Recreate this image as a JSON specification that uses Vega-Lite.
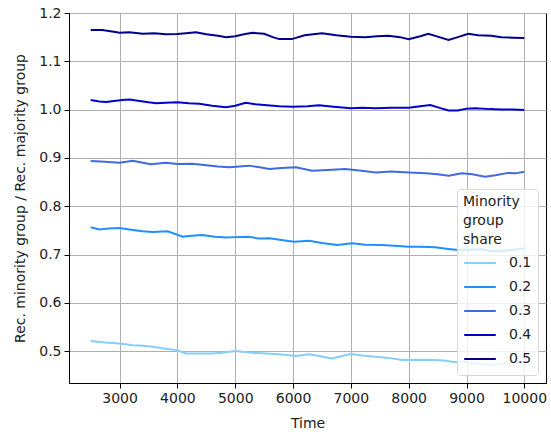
{
  "$schema": "https://vega.github.io/schema/vega-lite/v6.json",
  "width": 477,
  "height": 370,
  "autosize": {"type": "none"},
  "padding": {"left": 69, "top": 13, "right": 5, "bottom": 54},
  "background": "white",
  "config": {
    "font": "DejaVu Sans",
    "view": {"stroke": "black", "strokeWidth": 1},
    "axis": {
      "domainColor": "black",
      "tickColor": "black",
      "tickSize": 5,
      "labelPadding": 3,
      "labelFontSize": 14,
      "labelColor": "#222222",
      "titleFontSize": 14,
      "titleFontWeight": "normal",
      "titleColor": "#222222",
      "gridColor": "#b0b0b0",
      "gridWidth": 1
    }
  },
  "datasets": {
    "d": [
      {"t": 2500, "v": 0.5209, "s": "0.1"}, {"t": 2750, "v": 0.518, "s": "0.1"}, {"t": 3000, "v": 0.5159, "s": "0.1"}, {"t": 3230, "v": 0.5124, "s": "0.1"}, {"t": 3400, "v": 0.511, "s": "0.1"}, {"t": 3570, "v": 0.509, "s": "0.1"}, {"t": 3800, "v": 0.505, "s": "0.1"}, {"t": 3977, "v": 0.5023, "s": "0.1"}, {"t": 4150, "v": 0.4952, "s": "0.1"}, {"t": 4400, "v": 0.495, "s": "0.1"}, {"t": 4610, "v": 0.4952, "s": "0.1"}, {"t": 4800, "v": 0.497, "s": "0.1"}, {"t": 5000, "v": 0.5, "s": "0.1"}, {"t": 5250, "v": 0.497, "s": "0.1"}, {"t": 5530, "v": 0.4952, "s": "0.1"}, {"t": 5800, "v": 0.493, "s": "0.1"}, {"t": 6050, "v": 0.4899, "s": "0.1"}, {"t": 6280, "v": 0.4935, "s": "0.1"}, {"t": 6450, "v": 0.49, "s": "0.1"}, {"t": 6670, "v": 0.485, "s": "0.1"}, {"t": 6850, "v": 0.49, "s": "0.1"}, {"t": 7000, "v": 0.494, "s": "0.1"}, {"t": 7200, "v": 0.491, "s": "0.1"}, {"t": 7430, "v": 0.4885, "s": "0.1"}, {"t": 7650, "v": 0.486, "s": "0.1"}, {"t": 7885, "v": 0.4816, "s": "0.1"}, {"t": 8150, "v": 0.482, "s": "0.1"}, {"t": 8460, "v": 0.4816, "s": "0.1"}, {"t": 8650, "v": 0.48, "s": "0.1"}, {"t": 8805, "v": 0.4768, "s": "0.1"}, {"t": 9000, "v": 0.477, "s": "0.1"}, {"t": 9200, "v": 0.474, "s": "0.1"}, {"t": 9440, "v": 0.4712, "s": "0.1"}, {"t": 9600, "v": 0.474, "s": "0.1"}, {"t": 9720, "v": 0.476, "s": "0.1"}, {"t": 10000, "v": 0.478, "s": "0.1"},

      {"t": 2500, "v": 0.7563, "s": "0.2"}, {"t": 2655, "v": 0.752, "s": "0.2"}, {"t": 2800, "v": 0.754, "s": "0.2"}, {"t": 3000, "v": 0.7548, "s": "0.2"}, {"t": 3230, "v": 0.7507, "s": "0.2"}, {"t": 3400, "v": 0.748, "s": "0.2"}, {"t": 3570, "v": 0.7466, "s": "0.2"}, {"t": 3833, "v": 0.748, "s": "0.2"}, {"t": 4090, "v": 0.737, "s": "0.2"}, {"t": 4250, "v": 0.739, "s": "0.2"}, {"t": 4430, "v": 0.7404, "s": "0.2"}, {"t": 4650, "v": 0.737, "s": "0.2"}, {"t": 4840, "v": 0.735, "s": "0.2"}, {"t": 5000, "v": 0.736, "s": "0.2"}, {"t": 5240, "v": 0.7369, "s": "0.2"}, {"t": 5400, "v": 0.733, "s": "0.2"}, {"t": 5590, "v": 0.7335, "s": "0.2"}, {"t": 5800, "v": 0.73, "s": "0.2"}, {"t": 6020, "v": 0.7265, "s": "0.2"}, {"t": 6280, "v": 0.7286, "s": "0.2"}, {"t": 6500, "v": 0.724, "s": "0.2"}, {"t": 6765, "v": 0.7197, "s": "0.2"}, {"t": 7020, "v": 0.7232, "s": "0.2"}, {"t": 7250, "v": 0.72, "s": "0.2"}, {"t": 7535, "v": 0.7197, "s": "0.2"}, {"t": 7750, "v": 0.718, "s": "0.2"}, {"t": 8000, "v": 0.716, "s": "0.2"}, {"t": 8200, "v": 0.716, "s": "0.2"}, {"t": 8460, "v": 0.715, "s": "0.2"}, {"t": 8650, "v": 0.712, "s": "0.2"}, {"t": 8805, "v": 0.7097, "s": "0.2"}, {"t": 9000, "v": 0.71, "s": "0.2"}, {"t": 9260, "v": 0.711, "s": "0.2"}, {"t": 9400, "v": 0.708, "s": "0.2"}, {"t": 9550, "v": 0.706, "s": "0.2"}, {"t": 9750, "v": 0.709, "s": "0.2"}, {"t": 10000, "v": 0.7128, "s": "0.2"},

      {"t": 2500, "v": 0.8935, "s": "0.3"}, {"t": 2750, "v": 0.892, "s": "0.3"}, {"t": 3000, "v": 0.89, "s": "0.3"}, {"t": 3230, "v": 0.894, "s": "0.3"}, {"t": 3400, "v": 0.89, "s": "0.3"}, {"t": 3545, "v": 0.8867, "s": "0.3"}, {"t": 3800, "v": 0.89, "s": "0.3"}, {"t": 4000, "v": 0.8874, "s": "0.3"}, {"t": 4260, "v": 0.888, "s": "0.3"}, {"t": 4500, "v": 0.885, "s": "0.3"}, {"t": 4700, "v": 0.882, "s": "0.3"}, {"t": 4900, "v": 0.8805, "s": "0.3"}, {"t": 5240, "v": 0.884, "s": "0.3"}, {"t": 5400, "v": 0.881, "s": "0.3"}, {"t": 5590, "v": 0.877, "s": "0.3"}, {"t": 5800, "v": 0.879, "s": "0.3"}, {"t": 6050, "v": 0.8805, "s": "0.3"}, {"t": 6330, "v": 0.8735, "s": "0.3"}, {"t": 6600, "v": 0.875, "s": "0.3"}, {"t": 6900, "v": 0.877, "s": "0.3"}, {"t": 7150, "v": 0.874, "s": "0.3"}, {"t": 7430, "v": 0.87, "s": "0.3"}, {"t": 7700, "v": 0.872, "s": "0.3"}, {"t": 8000, "v": 0.87, "s": "0.3"}, {"t": 8300, "v": 0.868, "s": "0.3"}, {"t": 8500, "v": 0.866, "s": "0.3"}, {"t": 8690, "v": 0.8632, "s": "0.3"}, {"t": 8920, "v": 0.868, "s": "0.3"}, {"t": 9100, "v": 0.866, "s": "0.3"}, {"t": 9320, "v": 0.861, "s": "0.3"}, {"t": 9500, "v": 0.864, "s": "0.3"}, {"t": 9720, "v": 0.869, "s": "0.3"}, {"t": 9850, "v": 0.868, "s": "0.3"}, {"t": 10000, "v": 0.8715, "s": "0.3"},

      {"t": 2500, "v": 1.02, "s": "0.4"}, {"t": 2650, "v": 1.017, "s": "0.4"}, {"t": 2770, "v": 1.016, "s": "0.4"}, {"t": 2900, "v": 1.018, "s": "0.4"}, {"t": 3050, "v": 1.02, "s": "0.4"}, {"t": 3170, "v": 1.021, "s": "0.4"}, {"t": 3350, "v": 1.018, "s": "0.4"}, {"t": 3500, "v": 1.015, "s": "0.4"}, {"t": 3630, "v": 1.013, "s": "0.4"}, {"t": 3800, "v": 1.014, "s": "0.4"}, {"t": 4000, "v": 1.015, "s": "0.4"}, {"t": 4200, "v": 1.013, "s": "0.4"}, {"t": 4380, "v": 1.012, "s": "0.4"}, {"t": 4600, "v": 1.008, "s": "0.4"}, {"t": 4840, "v": 1.005, "s": "0.4"}, {"t": 5000, "v": 1.008, "s": "0.4"}, {"t": 5180, "v": 1.0143, "s": "0.4"}, {"t": 5350, "v": 1.011, "s": "0.4"}, {"t": 5550, "v": 1.009, "s": "0.4"}, {"t": 5760, "v": 1.007, "s": "0.4"}, {"t": 6000, "v": 1.006, "s": "0.4"}, {"t": 6250, "v": 1.007, "s": "0.4"}, {"t": 6450, "v": 1.009, "s": "0.4"}, {"t": 6700, "v": 1.006, "s": "0.4"}, {"t": 7000, "v": 1.003, "s": "0.4"}, {"t": 7200, "v": 1.004, "s": "0.4"}, {"t": 7430, "v": 1.003, "s": "0.4"}, {"t": 7700, "v": 1.004, "s": "0.4"}, {"t": 8000, "v": 1.004, "s": "0.4"}, {"t": 8200, "v": 1.007, "s": "0.4"}, {"t": 8375, "v": 1.0095, "s": "0.4"}, {"t": 8550, "v": 1.003, "s": "0.4"}, {"t": 8690, "v": 0.998, "s": "0.4"}, {"t": 8850, "v": 0.998, "s": "0.4"}, {"t": 9000, "v": 1.002, "s": "0.4"}, {"t": 9150, "v": 1.003, "s": "0.4"}, {"t": 9400, "v": 1.001, "s": "0.4"}, {"t": 9600, "v": 1.0, "s": "0.4"}, {"t": 9800, "v": 1.0, "s": "0.4"}, {"t": 10000, "v": 0.999, "s": "0.4"},

      {"t": 2500, "v": 1.165, "s": "0.5"}, {"t": 2700, "v": 1.165, "s": "0.5"}, {"t": 2900, "v": 1.161, "s": "0.5"}, {"t": 3000, "v": 1.159, "s": "0.5"}, {"t": 3170, "v": 1.16, "s": "0.5"}, {"t": 3400, "v": 1.157, "s": "0.5"}, {"t": 3600, "v": 1.158, "s": "0.5"}, {"t": 3800, "v": 1.156, "s": "0.5"}, {"t": 4000, "v": 1.1565, "s": "0.5"}, {"t": 4150, "v": 1.158, "s": "0.5"}, {"t": 4320, "v": 1.16, "s": "0.5"}, {"t": 4500, "v": 1.156, "s": "0.5"}, {"t": 4700, "v": 1.153, "s": "0.5"}, {"t": 4840, "v": 1.15, "s": "0.5"}, {"t": 5000, "v": 1.152, "s": "0.5"}, {"t": 5150, "v": 1.156, "s": "0.5"}, {"t": 5300, "v": 1.159, "s": "0.5"}, {"t": 5500, "v": 1.157, "s": "0.5"}, {"t": 5650, "v": 1.15, "s": "0.5"}, {"t": 5760, "v": 1.146, "s": "0.5"}, {"t": 5980, "v": 1.146, "s": "0.5"}, {"t": 6200, "v": 1.154, "s": "0.5"}, {"t": 6500, "v": 1.158, "s": "0.5"}, {"t": 6750, "v": 1.154, "s": "0.5"}, {"t": 7000, "v": 1.151, "s": "0.5"}, {"t": 7250, "v": 1.15, "s": "0.5"}, {"t": 7450, "v": 1.152, "s": "0.5"}, {"t": 7650, "v": 1.153, "s": "0.5"}, {"t": 7850, "v": 1.15, "s": "0.5"}, {"t": 8000, "v": 1.1455, "s": "0.5"}, {"t": 8200, "v": 1.152, "s": "0.5"}, {"t": 8340, "v": 1.157, "s": "0.5"}, {"t": 8500, "v": 1.151, "s": "0.5"}, {"t": 8690, "v": 1.144, "s": "0.5"}, {"t": 8850, "v": 1.15, "s": "0.5"}, {"t": 9030, "v": 1.157, "s": "0.5"}, {"t": 9200, "v": 1.154, "s": "0.5"}, {"t": 9430, "v": 1.153, "s": "0.5"}, {"t": 9600, "v": 1.15, "s": "0.5"}, {"t": 9800, "v": 1.149, "s": "0.5"}, {"t": 10000, "v": 1.148, "s": "0.5"}
    ]
  },
  "data": {"name": "d"},
  "mark": {"type": "line", "strokeWidth": 2, "clip": true},
  "encoding": {
    "x": {
      "field": "t",
      "type": "quantitative",
      "scale": {"domain": [2125, 10375], "nice": false, "zero": false},
      "axis": {"title": "Time", "values": [3000, 4000, 5000, 6000, 7000, 8000, 9000, 10000], "format": "d", "titlePadding": 11}
    },
    "y": {
      "field": "v",
      "type": "quantitative",
      "scale": {"domain": [0.434, 1.2], "nice": false, "zero": false},
      "axis": {"title": "Rec. minority group / Rec. majority group", "values": [0.5, 0.6, 0.7, 0.8, 0.9, 1.0, 1.1, 1.2], "format": ".1f", "titlePadding": 11}
    },
    "color": {
      "field": "s",
      "type": "nominal",
      "scale": {"domain": ["0.1", "0.2", "0.3", "0.4", "0.5"], "range": ["#87cefa", "#1e90ff", "#4169e1", "#0000cd", "#00008b"]},
      "legend": {
        "title": ["Minority", "group", "share"],
        "orient": "none",
        "legendX": 388,
        "legendY": 176,
        "symbolType": "stroke",
        "symbolStrokeWidth": 2,
        "symbolSize": 1000,
        "clipHeight": 20,
        "rowPadding": 4,
        "labelFontSize": 14,
        "labelColor": "#222222",
        "labelOffset": 12,
        "titleFontSize": 14,
        "titleFontWeight": "normal",
        "titleColor": "#222222",
        "titleLineHeight": 19,
        "titlePadding": 6,
        "padding": 6,
        "fillColor": "rgba(255,255,255,0.8)",
        "strokeColor": "#d9d9d9",
        "cornerRadius": 3
      }
    }
  }
}
